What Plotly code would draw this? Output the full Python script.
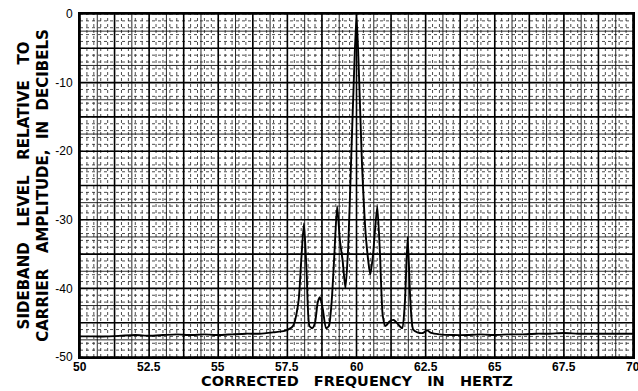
import numpy as np
import plotly.graph_objects as go

freq_hz = [50.0, 50.5, 51.0, 51.5, 52.0, 52.5, 53.0, 53.5, 54.0, 54.5, 55.0, 55.5,
           56.0, 56.5, 57.0, 57.4, 57.7, 57.9, 58.0, 58.1, 58.2, 58.3, 58.4, 58.5,
           58.6, 58.68, 58.78, 58.9, 59.0, 59.1, 59.2, 59.3, 59.4, 59.5, 59.6, 59.7,
           59.8, 59.9, 60.0, 60.1, 60.2, 60.35, 60.5, 60.6, 60.75, 60.85, 60.95, 61.05,
           61.2, 61.35, 61.5, 61.65, 61.75, 61.85, 61.95, 62.05, 62.2, 62.4, 62.55, 62.7,
           63.0, 63.5, 64.0, 64.5, 65.0, 65.5, 66.0, 66.5, 67.0, 67.5, 68.0, 68.5,
           69.0, 69.5, 70.0]
level_db = [-47.0, -47.0, -47.0, -46.9, -46.8, -46.9, -46.8, -46.7, -46.8, -46.7, -46.8, -46.7,
            -46.6, -46.6, -46.4, -46.2, -45.5, -42.0, -36.0, -30.5, -38.0, -45.5, -45.8, -45.0,
            -42.0, -41.3, -43.0, -45.8, -45.5, -42.0, -35.0, -28.0, -33.0, -36.0, -40.0, -34.0,
            -22.0, -10.0, 0.0, -10.0, -22.0, -33.0, -38.0, -35.0, -28.0, -35.0, -44.0, -45.5,
            -44.8, -44.6, -45.2, -45.8, -42.0, -32.5, -42.0, -46.0, -46.4, -46.5, -46.1, -46.5,
            -46.7, -46.8, -46.8, -46.7, -46.8, -46.7, -46.7, -46.6, -46.6, -46.5, -46.6, -46.6,
            -46.6, -46.6, -46.6]

x_tick_vals = [50, 52.5, 55, 57.5, 60, 62.5, 65, 67.5, 70]
x_tick_text = ["50", "52.5", "55", "57.5", "60", "62.5", "65", "67.5", "70"]
y_tick_vals = [0, -10, -20, -30, -40, -50]
y_tick_text = ["0", "-10", "-20", "-30", "-40", "-50"]
x_title = "CORRECTED   FREQUENCY   IN   HERTZ"
y_title = "SIDEBAND   LEVEL   RELATIVE   TO<br>CARRIER   AMPLITUDE,  IN  DECIBELS"

X0, X1, Y0, Y1 = 50, 70, -50, 0

fig = go.Figure()
fig.add_trace(go.Scatter(x=freq_hz, y=level_db, mode="lines",
                         line=dict(color="black", width=1.9, shape="spline", smoothing=0.6),
                         hoverinfo="skip", showlegend=False))

shapes = []
for v in np.arange(X0, X1 + 1e-9, 0.25):
    shapes.append(dict(type="line", xref="x", yref="y", x0=v, x1=v, y0=Y0, y1=Y1,
                       line=dict(color="#222", width=0.8, dash="dot"), layer="below"))
for v in np.arange(Y0, Y1 + 1e-9, 1.0):
    shapes.append(dict(type="line", xref="x", yref="y", x0=X0, x1=X1, y0=v, y1=v,
                       line=dict(color="#222", width=0.8, dash="dot"), layer="below"))
for v in np.arange(X0 + 0.625, X1, 1.25):
    shapes.append(dict(type="line", xref="x", yref="y", x0=v, x1=v, y0=Y0, y1=Y1,
                       line=dict(color="#111", width=0.9), layer="below"))
for v in np.arange(Y0 + 2.5, Y1, 5.0):
    shapes.append(dict(type="line", xref="x", yref="y", x0=X0, x1=X1, y0=v, y1=v,
                       line=dict(color="#111", width=0.9), layer="below"))
for v in np.arange(X0, X1 + 1e-9, 1.25):
    shapes.append(dict(type="line", xref="x", yref="y", x0=v, x1=v, y0=Y0, y1=Y1,
                       line=dict(color="black", width=1.6), layer="below"))
for v in np.arange(Y0, Y1 + 1e-9, 5.0):
    shapes.append(dict(type="line", xref="x", yref="y", x0=X0, x1=X1, y0=v, y1=v,
                       line=dict(color="black", width=1.6), layer="below"))

tick_fam = "Liberation Sans, Arial, sans-serif"
title_fam = "DejaVu Sans, sans-serif"

annotations = []
for v, t in zip(x_tick_vals, x_tick_text):
    annotations.append(dict(x=v, y=0, xref="x", yref="paper", yanchor="top", yshift=-1,
                            text="<b>" + t + "</b>", showarrow=False,
                            font=dict(family=tick_fam, size=12, color="black")))
annotations.append(dict(x=0.5, y=0, xref="paper", yref="paper", yanchor="top", yshift=-14,
                        text="<b>" + x_title + "</b>", showarrow=False,
                        font=dict(family=title_fam, size=14.5, color="black")))

fig.update_layout(
    width=638, height=391,
    margin=dict(l=80, r=5, t=14, b=34, autoexpand=False),
    paper_bgcolor="white", plot_bgcolor="white",
    shapes=shapes, annotations=annotations,
    font=dict(family=tick_fam, color="black", size=12),
    xaxis=dict(range=[X0, X1], showticklabels=False,
               showgrid=False, zeroline=False, ticks="", showline=True,
               linecolor="black", linewidth=2, mirror=True, automargin=False),
    yaxis=dict(range=[Y0, Y1], tickvals=y_tick_vals, ticktext=y_tick_text,
               showgrid=False, zeroline=False, ticks="", showline=True,
               linecolor="black", linewidth=2, mirror=True, automargin=False,
               tickfont=dict(size=12, family=tick_fam), ticklabelstandoff=3,
               tickprefix="<b>", ticksuffix="</b>",
               title=dict(text="<b>" + y_title + "</b>",
                          font=dict(size=15, family=title_fam), standoff=3)),
)

fig.write_html("out.html", config={"displayModeBar": False},
               post_script="document.body.style.margin='0';document.body.style.overflow='hidden';")
